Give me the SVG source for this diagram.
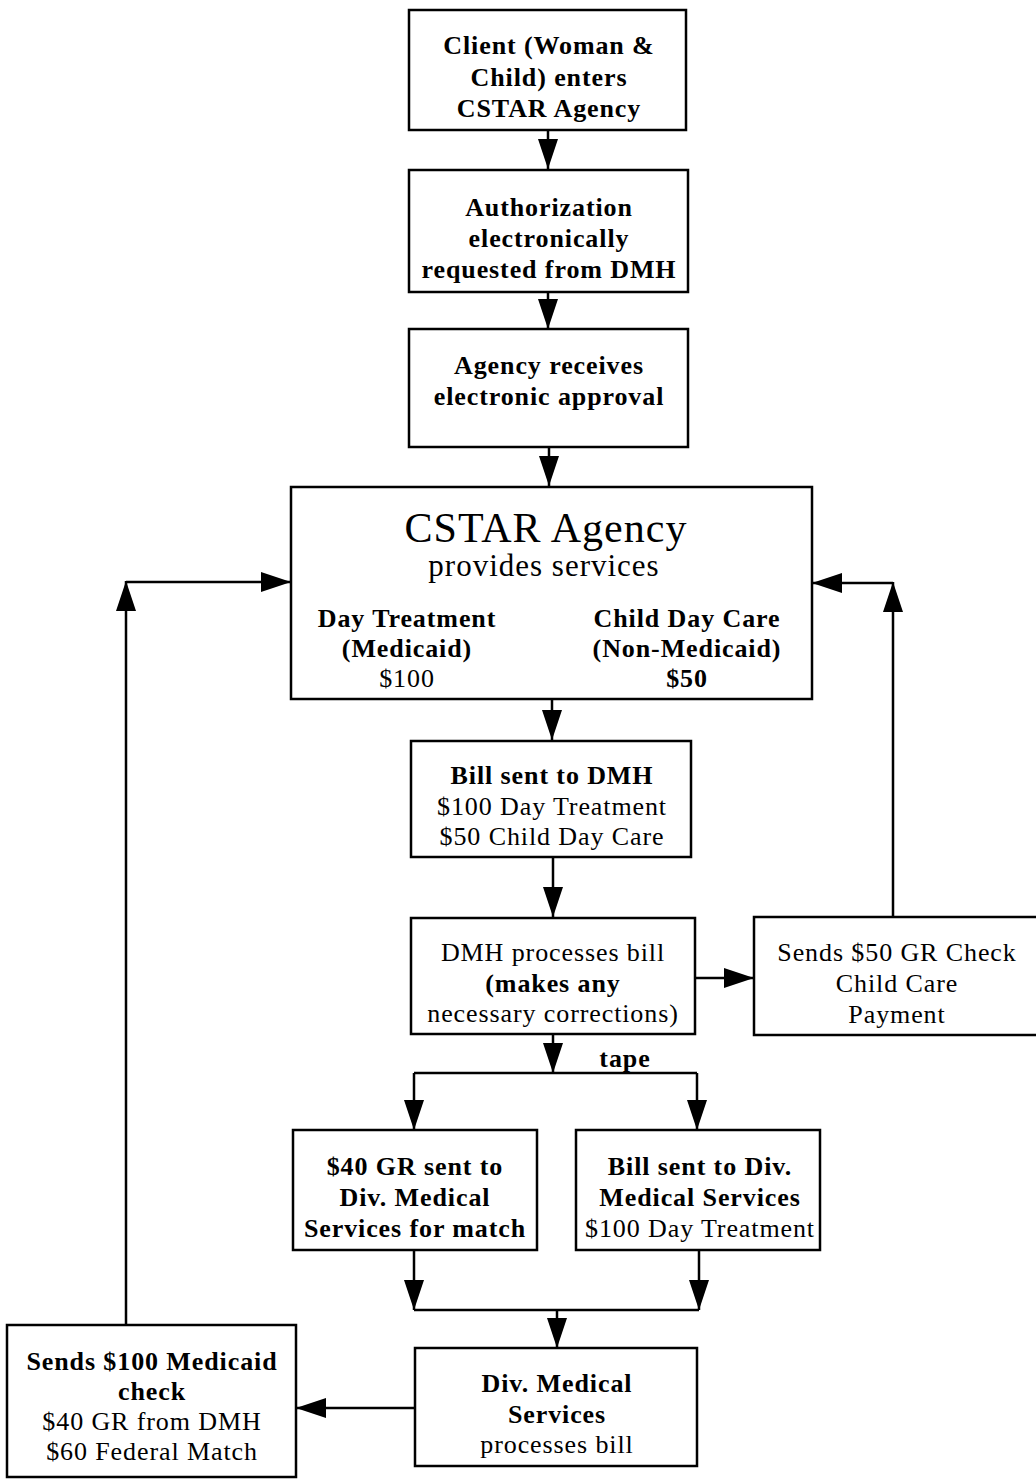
<svg xmlns="http://www.w3.org/2000/svg" width="1036" height="1480" viewBox="0 0 1036 1480">
<style>
.box{fill:#fff;stroke:#000;stroke-width:2.5}
.t{font-family:"Liberation Serif","Times New Roman",serif;font-size:26px;letter-spacing:0.9px;text-anchor:middle;fill:#000}
.b{font-weight:bold}
.ln{fill:none;stroke:#000;stroke-width:2.5}
</style>
<defs>
<marker id="ah" markerUnits="userSpaceOnUse" markerWidth="30" markerHeight="20" refX="30" refY="10" orient="auto" viewBox="0 0 30 20">
<path d="M0,0 L30,10 L0,20 Z" fill="#000"/>
</marker>
</defs>
<rect width="1036" height="1480" fill="#fff"/>
<g id="connectors">
<line class="ln" x1="548" y1="130" x2="548" y2="169" marker-end="url(#ah)"/>
<line class="ln" x1="548" y1="292" x2="548" y2="329" marker-end="url(#ah)"/>
<line class="ln" x1="549" y1="447" x2="549" y2="486" marker-end="url(#ah)"/>
<line class="ln" x1="552" y1="699" x2="552" y2="740" marker-end="url(#ah)"/>
<line class="ln" x1="553" y1="857" x2="553" y2="917" marker-end="url(#ah)"/>
<line class="ln" x1="695" y1="978" x2="754" y2="978" marker-end="url(#ah)"/>
<line class="ln" x1="893" y1="917" x2="893" y2="582" marker-end="url(#ah)"/>
<line class="ln" x1="893" y1="583" x2="812" y2="583" marker-end="url(#ah)"/>
<line class="ln" x1="553" y1="1035" x2="553" y2="1073" marker-end="url(#ah)"/>
<polyline class="ln" points="414,1073 697,1073"/>
<line class="ln" x1="414" y1="1073" x2="414" y2="1130" marker-end="url(#ah)"/>
<line class="ln" x1="697" y1="1073" x2="697" y2="1130" marker-end="url(#ah)"/>
<line class="ln" x1="414" y1="1250" x2="414" y2="1310" marker-end="url(#ah)"/>
<line class="ln" x1="699" y1="1250" x2="699" y2="1310" marker-end="url(#ah)"/>
<polyline class="ln" points="414,1310 699,1310"/>
<line class="ln" x1="557" y1="1310" x2="557" y2="1348" marker-end="url(#ah)"/>
<line class="ln" x1="415" y1="1408" x2="296" y2="1408" marker-end="url(#ah)"/>
<line class="ln" x1="126" y1="1325" x2="126" y2="581" marker-end="url(#ah)"/>
<line class="ln" x1="126" y1="582" x2="291" y2="582" marker-end="url(#ah)"/>
<text class="t b" x="625" y="1067">tape</text>
</g>
<g id="n1">
<rect class="box" x="409" y="10" width="277" height="120"/>
<text class="t b" x="549" y="54">Client (Woman &amp;</text>
<text class="t b" x="549" y="86">Child) enters</text>
<text class="t b" x="549" y="117">CSTAR Agency</text>
</g>
<g id="n2">
<rect class="box" x="409" y="170" width="279" height="122"/>
<text class="t b" x="549" y="216">Authorization</text>
<text class="t b" x="549" y="247">electronically</text>
<text class="t b" x="549" y="278">requested from DMH</text>
</g>
<g id="n3">
<rect class="box" x="409" y="329" width="279" height="118"/>
<text class="t b" x="549" y="374">Agency receives</text>
<text class="t b" x="549" y="405">electronic approval</text>
</g>
<g id="n4">
<rect class="box" x="291" y="487" width="521" height="212"/>
<text class="t" x="546" y="542" style="font-size:42px;letter-spacing:1px">CSTAR Agency</text>
<text class="t" x="544" y="576" style="font-size:31px;letter-spacing:1px">provides services</text>
<text class="t b" x="407" y="627">Day Treatment</text>
<text class="t b" x="407" y="657">(Medicaid)</text>
<text class="t" x="407" y="687">$100</text>
<text class="t b" x="687" y="627">Child Day Care</text>
<text class="t b" x="687" y="657">(Non-Medicaid)</text>
<text class="t b" x="687" y="687">$50</text>
</g>
<g id="n5">
<rect class="box" x="411" y="741" width="280" height="116"/>
<text class="t b" x="552" y="784">Bill sent to DMH</text>
<text class="t" x="552" y="815">$100 Day Treatment</text>
<text class="t" x="552" y="845">$50 Child Day Care</text>
</g>
<g id="n6">
<rect class="box" x="411" y="918" width="284" height="116"/>
<text class="t" x="553" y="961">DMH processes bill</text>
<text class="t b" x="553" y="992">(makes any</text>
<text class="t" x="553" y="1022">necessary corrections)</text>
</g>
<g id="n7">
<rect class="box" x="754" y="917" width="290" height="118"/>
<text class="t" x="897" y="961">Sends $50 GR Check</text>
<text class="t" x="897" y="992">Child Care</text>
<text class="t" x="897" y="1023">Payment</text>
</g>
<g id="n8">
<rect class="box" x="293" y="1130" width="244" height="120"/>
<text class="t b" x="415" y="1175">$40 GR sent to</text>
<text class="t b" x="415" y="1206">Div. Medical</text>
<text class="t b" x="415" y="1237">Services for match</text>
</g>
<g id="n9">
<rect class="box" x="576" y="1130" width="244" height="120"/>
<text class="t b" x="700" y="1175">Bill sent to Div.</text>
<text class="t b" x="700" y="1206">Medical Services</text>
<text class="t" x="700" y="1237">$100 Day Treatment</text>
</g>
<g id="n10">
<rect class="box" x="415" y="1348" width="282" height="118"/>
<text class="t b" x="557" y="1392">Div. Medical</text>
<text class="t b" x="557" y="1423">Services</text>
<text class="t" x="557" y="1453">processes bill</text>
</g>
<g id="n11">
<rect class="box" x="7" y="1325" width="289" height="152"/>
<text class="t b" x="152" y="1370">Sends $100 Medicaid</text>
<text class="t b" x="152" y="1400">check</text>
<text class="t" x="152" y="1430">$40 GR from DMH</text>
<text class="t" x="152" y="1460">$60 Federal Match</text>
</g>
</svg>
